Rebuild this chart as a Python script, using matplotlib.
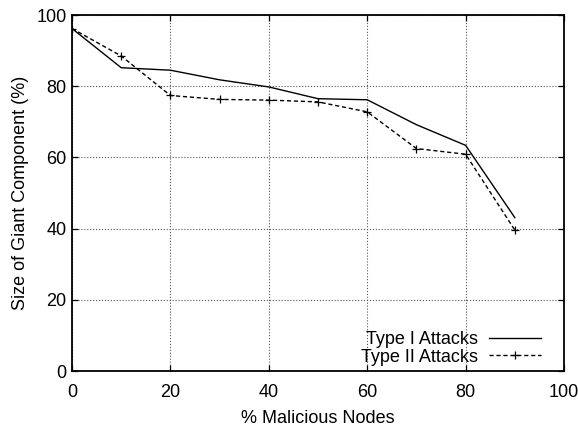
import matplotlib.pyplot as plt

plt.rcParams['font.family'] = ['Liberation Sans', 'DejaVu Sans']

malicious = [0, 10, 20, 30, 40, 50, 60, 70, 80, 90]
type1 = [96.2, 85.2, 84.5, 81.8, 79.8, 76.5, 76.2, 69.2, 63.4, 43.1]
type2 = [96.2, 88.5, 77.4, 76.3, 76.1, 75.6, 72.8, 62.5, 60.9, 39.6]

fig = plt.figure(figsize=(5.78, 4.29), dpi=100)
ax = fig.add_axes([0.1246, 0.135, 0.8512, 0.83])

ax.plot(malicious, type1, color='black', lw=1.0, label='Type I Attacks')
ax.plot(malicious, type2, color='black', lw=1.0, ls=(0, (3, 2)), marker='+',
        ms=6, mew=0.9, label='Type II Attacks')

ax.set_xlim(0, 100)
ax.set_ylim(0, 100)
ax.set_xticks(range(0, 101, 20))
ax.set_yticks(range(0, 101, 20))
ax.grid(True, color='#555555', ls=':', lw=0.8)
ax.tick_params(direction='in', top=True, right=True, length=4, width=0.9,
               labelsize=13)
ax.tick_params(axis='x', pad=9)
ax.tick_params(axis='y', pad=4)
for s in ax.spines.values():
    s.set_linewidth(1.3)

ax.set_xlabel('% Malicious Nodes', fontsize=13, labelpad=7)
ax.set_ylabel('Size of Giant Component (%)', fontsize=13, labelpad=5)

ax.legend(loc='lower right', bbox_to_anchor=(0.953, 0.015), frameon=False,
          markerfirst=False, numpoints=1, fontsize=13, handlelength=2.9,
          handletextpad=0.6, labelspacing=0.05, borderpad=0, borderaxespad=0)

fig.savefig('out.png', dpi=100)
